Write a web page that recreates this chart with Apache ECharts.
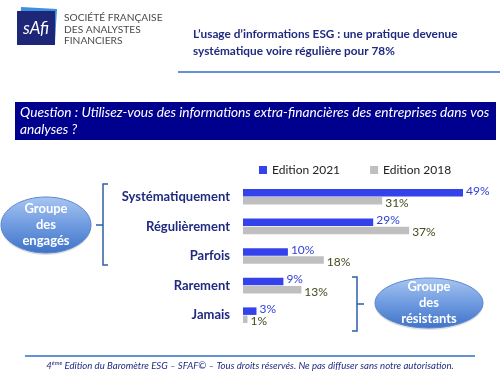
<!DOCTYPE html>
<html>
<head>
<meta charset="utf-8">
<script src="https://cdn.jsdelivr.net/npm/echarts@6/dist/echarts.min.js"></script>
<style>
  html, body { margin: 0; padding: 0; background: #fff; }
  #main { width: 500px; height: 375px; }
</style>
</head>
<body>
<div id="main"></div>
<script>
// données
var categories = ['Systématiquement', 'Régulièrement', 'Parfois', 'Rarement', 'Jamais'];
var edition2021 = [49, 29, 10, 9, 3];
var edition2018 = [31, 37, 18, 13, 1];
var seriesNames = ['Edition 2021', 'Edition 2018'];

var NAVY = '#1f2a80';
var FONT = 'Lato, "Open Sans", sans-serif';

var chart = echarts.init(document.getElementById('main'));

// ellipse "groupe" avec dégradé bleu clair
function groupBubble(cx, cy, rx, ry, lines) {
    return {
        type: 'group',
        children: [
            {
                type: 'ellipse',
                shape: { cx: cx, cy: cy + 2, rx: rx, ry: ry },
                style: { fill: 'rgba(0,0,0,0.12)' }
            },
            {
                type: 'ellipse',
                shape: { cx: cx, cy: cy, rx: rx, ry: ry },
                style: {
                    fill: new echarts.graphic.LinearGradient(0, 0, 0, 1, [
                        { offset: 0, color: '#a9c6f0' },
                        { offset: 0.5, color: '#6f9be0' },
                        { offset: 1, color: '#3f72c8' }
                    ]),
                    stroke: '#5a86cf',
                    lineWidth: 1
                }
            },
            {
                type: 'text',
                style: {
                    x: cx, y: cy,
                    text: lines.join('\n'),
                    fill: '#ffffff',
                    font: 'bold 13px ' + FONT,
                    lineHeight: 16,
                    align: 'center',
                    verticalAlign: 'middle'
                }
            }
        ]
    };
}

var option = {
    animation: false,
    legend: {
        data: seriesNames,
        left: 254,
        top: 159,
        itemWidth: 8,
        itemHeight: 8,
        itemGap: 30,
        icon: 'rect',
        textStyle: { fontFamily: FONT, fontSize: 12, color: '#222' }
    },
    grid: {
        left: 243,
        top: 182,
        width: 224.5,
        height: 148
    },
    xAxis: {
        type: 'value',
        min: 0,
        max: 50,
        show: false
    },
    yAxis: {
        type: 'category',
        data: categories,
        inverse: true,
        axisLine: { show: false },
        axisTick: { show: false },
        axisLabel: {
            margin: 13,
            fontFamily: FONT,
            fontWeight: 'bold',
            fontSize: 13,
            color: NAVY
        }
    },
    series: [
        {
            name: seriesNames[0],
            type: 'bar',
            data: edition2021,
            barWidth: 7.5,
            barGap: '8%',
            itemStyle: { color: '#3342ea' },
            label: {
                show: true,
                position: 'right',
                distance: 3,
                formatter: '{c}%',
                fontFamily: FONT,
                fontSize: 12,
                color: '#2f3fd8',
                offset: [0, -2]
            }
        },
        {
            name: seriesNames[1],
            type: 'bar',
            data: edition2018,
            barWidth: 7.5,
            itemStyle: { color: '#bfbfbf' },
            label: {
                show: true,
                position: 'right',
                distance: 3,
                formatter: '{c}%',
                fontFamily: FONT,
                fontSize: 12,
                color: '#3f4a1c',
                offset: [0, 2]
            }
        }
    ],
    graphic: [
        // logo SFAF
        {
            type: 'rect',
            shape: { x: 20, y: 8, width: 36, height: 34 },
            rotation: -0.06,
            originX: 38, originY: 25,
            style: { fill: '#3d8fe0' }
        },
        {
            type: 'rect',
            shape: { x: 17, y: 11, width: 38, height: 34 },
            style: { fill: '#1e2678' }
        },
        {
            type: 'text',
            style: {
                x: 36, y: 29, text: 'sAfi',
                fill: '#ffffff',
                font: 'italic 17px ' + FONT,
                align: 'center', verticalAlign: 'middle'
            }
        },
        {
            type: 'text',
            style: {
                x: 64, y: 12,
                text: 'SOCIÉTÉ FRANÇAISE\nDES ANALYSTES\nFINANCIERS',
                fill: '#4a4a4a',
                fontFamily: FONT,
                fontSize: 10.2,
                lineHeight: 11.5
            }
        },
        // titre
        {
            type: 'text',
            style: {
                x: 193, y: 26,
                text: 'L\u2019usage d\u2019informations ESG : une pratique devenue\nsystématique voire régulière pour 78%',
                fill: NAVY,
                font: 'bold 11.8px ' + FONT,
                lineHeight: 17
            }
        },
        {
            type: 'line',
            shape: { x1: 178, y1: 72, x2: 500, y2: 72 },
            style: { stroke: '#2e6fc6', lineWidth: 1.5 }
        },
        // bandeau question
        {
            type: 'rect',
            shape: { x: 15, y: 102, width: 481, height: 38 },
            style: { fill: '#00008f' }
        },
        {
            type: 'text',
            style: {
                x: 20, y: 104,
                text: 'Question : Utilisez-vous des informations extra-financières des entreprises dans vos\nanalyses ?',
                fill: '#ffffff',
                fontFamily: FONT,
                fontStyle: 'italic',
                fontSize: 13.7,
                lineHeight: 17
            }
        },
        // accolade gauche
        {
            type: 'polyline',
            shape: { points: [[108, 184], [103, 184], [103, 265], [108, 265]] },
            style: { stroke: '#2e5fa8', lineWidth: 1.5, fill: null }
        },
        {
            type: 'line',
            shape: { x1: 96, y1: 225, x2: 103, y2: 225 },
            style: { stroke: '#2e5fa8', lineWidth: 1.5 }
        },
        groupBubble(46, 225, 45, 28, ['Groupe', 'des', 'engagés']),
        // accolade droite
        {
            type: 'polyline',
            shape: { points: [[352, 277], [357, 277], [357, 331], [352, 331]] },
            style: { stroke: '#2e5fa8', lineWidth: 1.5, fill: null }
        },
        {
            type: 'line',
            shape: { x1: 357, y1: 304, x2: 364, y2: 304 },
            style: { stroke: '#2e5fa8', lineWidth: 1.5 }
        },
        groupBubble(429, 303, 54, 25, ['Groupe', 'des', 'résistants']),
        // pied de page
        {
            type: 'line',
            shape: { x1: 25, y1: 356, x2: 475, y2: 356 },
            style: { stroke: '#2e6fc6', lineWidth: 1.5 }
        },
        {
            type: 'text',
            style: {
                x: 250, y: 366,
                text: '{n|4}{sup|ème}{n| Edition du Baromètre ESG \u2013 SFAF\u00a9 \u2013 Tous droits réservés. Ne pas diffuser sans notre autorisation.}',
                fill: NAVY,
                align: 'center', verticalAlign: 'middle',
                rich: {
                    n: { fontFamily: FONT, fontSize: 9.6, fontStyle: 'italic', fill: NAVY, lineHeight: 12 },
                    sup: { fontFamily: FONT, fontSize: 6, fontStyle: 'italic', fill: NAVY, lineHeight: 12, verticalAlign: 'top', padding: [0, 0, 5, 0] }
                }
            }
        }
    ]
};

chart.setOption(option);
</script>
</body>
</html>
